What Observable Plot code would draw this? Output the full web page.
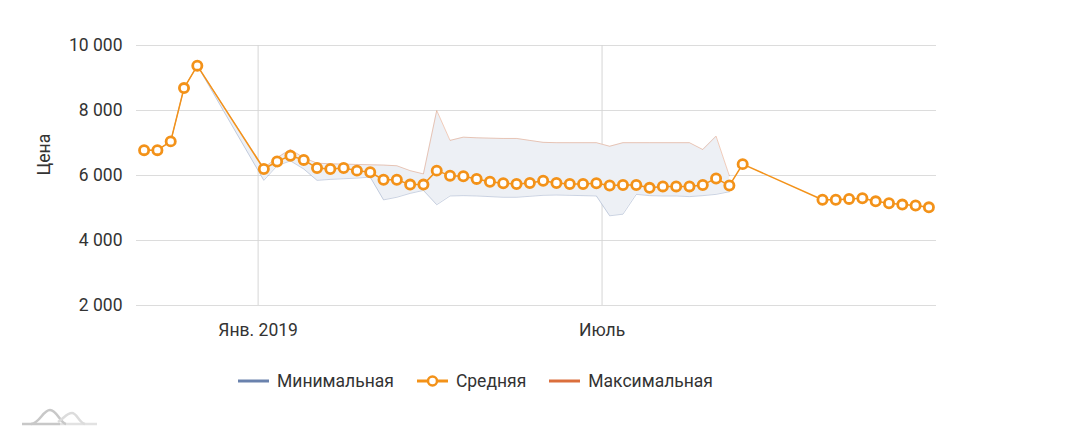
<!DOCTYPE html>
<html>
<head>
<meta charset="utf-8">
<script src="https://cdn.jsdelivr.net/npm/d3@7"></script>
<script src="https://cdn.jsdelivr.net/npm/@observablehq/plot@0.6"></script>
<style>
  html, body { margin: 0; padding: 0; background: #fff; }
  body { width: 1079px; height: 436px; position: relative; overflow: hidden; font-family: Roboto, "Noto Sans", sans-serif; color: #333; }
  #chart { position: absolute; left: 0; top: 0; }
  #legend { position: absolute; left: 238px; top: 371px; display: flex; align-items: center; font-size: 17.5px; color: #333; white-space: nowrap; }
  #legend .item { display: flex; align-items: center; margin-right: 23px; }
  #legend svg { margin-right: 8px; }
  #logo { position: absolute; left: 0; top: 395px; }
</style>
</head>
<body>
<div id="chart"></div>
<div id="legend"></div>
<svg id="logo" width="120" height="41" viewBox="0 395 120 41">
  <path d="M22,424 L60,424" stroke="#c8c8c8" stroke-width="2.5" fill="none"/>
  <path d="M60,424 L97,424" stroke="#e2e2e2" stroke-width="2.5" fill="none"/>
  <path d="M31,424 C40,423 43,410 50,410 C57,410 60,423 66,424" stroke="#c8c8c8" stroke-width="2.5" fill="none"/>
  <path d="M58,422 C64,418 67,413 72,413 C77,413 79,423 85,424" stroke="#dcdcdc" stroke-width="2.5" fill="none"/>
</svg>
<script>
// ---- data ----
const dates = [
  "2018-11-02","2018-11-09","2018-11-16","2018-11-23","2018-11-30",
  "2019-01-04","2019-01-11","2019-01-18","2019-01-25","2019-02-01","2019-02-08","2019-02-15","2019-02-22",
  "2019-03-01","2019-03-08","2019-03-15","2019-03-22","2019-03-29","2019-04-05","2019-04-12","2019-04-19",
  "2019-04-26","2019-05-03","2019-05-10","2019-05-17","2019-05-24","2019-05-31","2019-06-07","2019-06-14",
  "2019-06-21","2019-06-28","2019-07-05","2019-07-12","2019-07-19","2019-07-26","2019-08-02","2019-08-09",
  "2019-08-16","2019-08-23","2019-08-30","2019-09-06","2019-09-13",
  "2019-10-25","2019-11-01","2019-11-08","2019-11-15","2019-11-22","2019-11-29","2019-12-06","2019-12-13","2019-12-20"
];
const meanPrice = [
  6780, 6780, 7050, 8690, 9380,
  6200, 6430, 6610, 6480, 6230, 6200, 6230, 6150,
  6100, 5870, 5870, 5720, 5720, 6150, 5995, 5975,
  5895, 5810, 5760, 5740, 5770, 5840, 5770, 5740,
  5740, 5760, 5690, 5710, 5710, 5620, 5665, 5665,
  5665, 5710, 5910, 5690, 6350,
  5255, 5255, 5280, 5300, 5205, 5145, 5105, 5075, 5020
];
const minPrice = [
  6780, 6780, 7050, 8690, 9380,
  5850, 6300, 6450, 6200, 5850, 5880, 5900, 5920,
  5950, 5250, 5330, 5450, 5540, 5100, 5370, 5380,
  5370, 5350, 5330, 5330, 5360, 5390, 5400, 5390,
  5380, 5370, 4760, 4810, 5420, 5380, 5370, 5370,
  5350, 5380, 5420, 5500, null,
  null, null, null, null, null, null, null, null, null
];
const maxPrice = [
  6780, 6780, 7050, 8690, 9380,
  6230, 6550, 6800, 6550, 6380, 6360, 6350, 6340,
  6330, 6320, 6300, 6150, 6050, 8000, 7080, 7180,
  7160, 7150, 7140, 7140, 7080, 7020, 7010, 7010,
  7010, 7010, 6900, 7010, 7010, 7010, 7010, 7010,
  7010, 6800, 7210, 5990, null,
  null, null, null, null, null, null, null, null, null
];
const yTicks = [2000, 4000, 6000, 8000, 10000];
const xTickDates = ["2019-01-01", "2019-07-01"];
const xTickLabels = ["Янв. 2019", "Июль"];
const seriesNames = ["Минимальная", "Средняя", "Максимальная"];
const seriesColors = ["#6a82ad", "#f39219", "#db6f3c"];
const yLabel = "Цена";

// ---- build ----
const data = dates.map((d, i) => ({
  date: new Date(d + "T00:00:00Z"),
  mean: meanPrice[i],
  min: minPrice[i],
  max: maxPrice[i]
}));
const xTicks = xTickDates.map(d => new Date(d + "T00:00:00Z"));
const fmtY = d => d3.format(",")(d).replace(/,/g, " ");

const chart = Plot.plot({
  width: 1079,
  height: 350,
  marginLeft: 136,
  marginRight: 143,
  marginTop: 45,
  marginBottom: 45,
  style: { fontFamily: "Roboto, 'Noto Sans', sans-serif", fontSize: "17.5px", color: "#333", background: "transparent" },
  x: { type: "utc", domain: [new Date("2018-10-29T00:00:00Z"), new Date("2019-12-24T00:00:00Z")] },
  y: { domain: [2000, 10000] },
  marks: [
    Plot.gridY(yTicks, { stroke: "#dcdcdc", strokeOpacity: 1, strokeWidth: 1 }),
    Plot.gridX(xTicks, { stroke: "#d6d6d6", strokeOpacity: 1, strokeWidth: 1 }),
    Plot.areaY(data, { x: "date", y1: "min", y2: "max", fill: "#edf0f5" }),
    Plot.lineY(data, { x: "date", y: "min", stroke: seriesColors[0], strokeOpacity: 0.35, strokeWidth: 1 }),
    Plot.lineY(data, { x: "date", y: "max", stroke: seriesColors[2], strokeOpacity: 0.35, strokeWidth: 1 }),
    Plot.lineY(data, { x: "date", y: "mean", stroke: seriesColors[1], strokeWidth: 1.5 }),
    Plot.dot(data, { x: "date", y: "mean", r: 4.6, fill: "white", stroke: seriesColors[1], strokeWidth: 2.8 }),
    Plot.axisY(yTicks, { tickSize: 0, tickPadding: 14, tickFormat: fmtY, label: null, fill: "#333" }),
    Plot.axisX(xTicks, { tickSize: 0, tickPadding: 18, tickFormat: (d, i) => xTickLabels[i], label: null, fill: "#333" }),
    Plot.text([yLabel], { frameAnchor: "left", dx: -92, rotate: -90, fill: "#333", fontSize: 17.5 })
  ]
});
document.getElementById("chart").appendChild(chart);

// ---- legend ----
const legend = document.getElementById("legend");
seriesNames.forEach((name, i) => {
  const item = document.createElement("div");
  item.className = "item";
  const c = seriesColors[i];
  const circle = i === 1 ? `<circle cx="15.5" cy="7" r="4.5" fill="white" stroke="${c}" stroke-width="2.5"/>` : "";
  item.innerHTML = `<svg width="31" height="14"><line x1="0" x2="31" y1="7" y2="7" stroke="${c}" stroke-width="3"/>${circle}</svg><span>${name}</span>`;
  legend.appendChild(item);
});
</script>
</body>
</html>
